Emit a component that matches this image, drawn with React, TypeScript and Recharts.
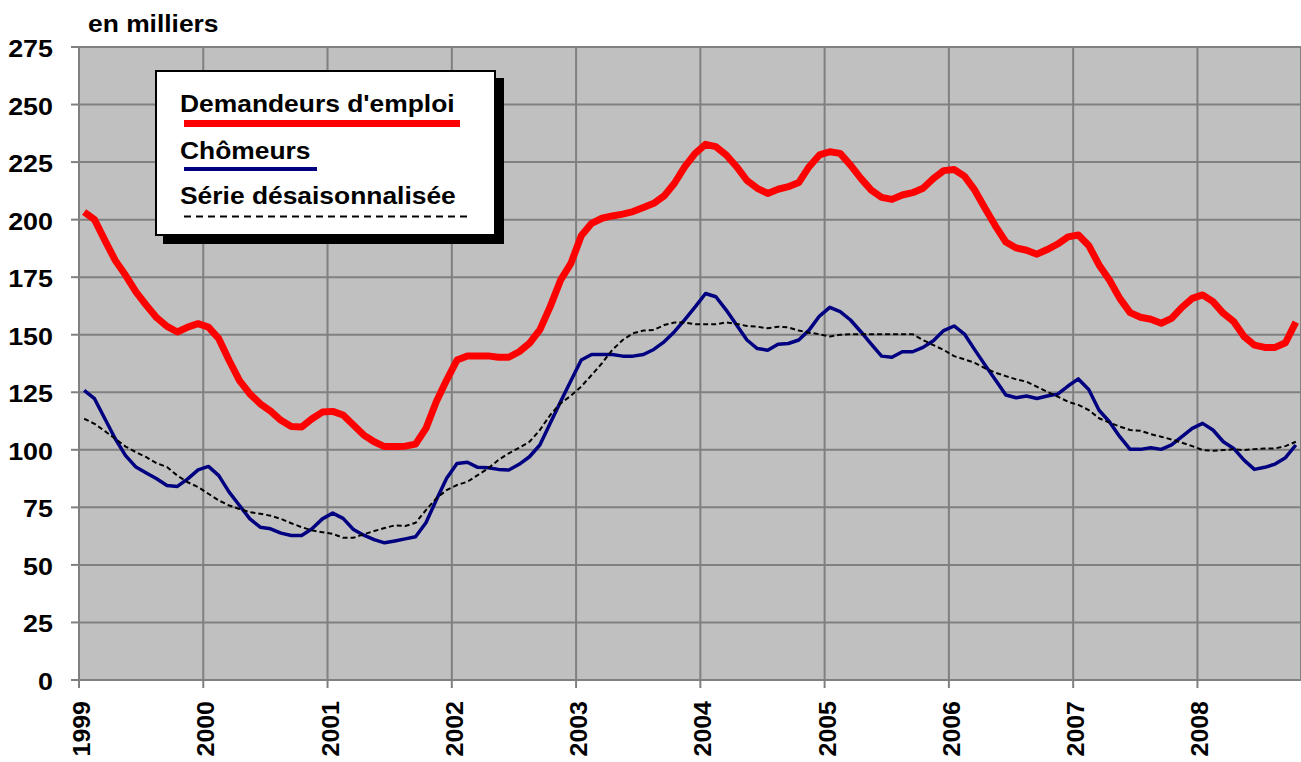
import React from "react";
import { LineChart, Line, XAxis, YAxis, CartesianGrid, Legend } from "recharts";

// monthly values, Jan 1999 - Oct 2008 (thousands)
const years = ["1999", "2000", "2001", "2002", "2003", "2004", "2005", "2006", "2007", "2008"];
const seriesNames = ["Demandeurs d'emploi", "Chômeurs", "Série désaisonnalisée"];

const demandeurs = [
  203.3, 200, 191, 182.3, 175.8, 168.6, 162.8, 157.4, 153.6, 151.2, 153.3, 154.8,
  153.3, 148.3, 138.8, 130.1, 124.3, 120, 116.8, 112.8, 110.1, 109.9, 113.5, 116.4,
  116.7, 115.1, 110.8, 106.4, 103.5, 101.4, 101.4, 101.6, 102.5, 109.3, 120.9, 130.3,
  139, 140.8, 140.8, 140.8, 140.2, 140.2, 142.6, 146.3, 152.1, 162.2, 173.7, 181,
  193, 198.4, 200.6, 201.6, 202.4, 203.5, 205.3, 207.1, 210.3, 215.8, 223, 228.8,
  232.7, 231.7, 228.1, 223, 217, 213.6, 211.4, 213.2, 214.3, 216.1, 223, 228.1,
  229.5, 228.8, 223.7, 217.9, 212.8, 209.7, 208.8, 210.7, 211.7, 213.6, 217.9, 221.3,
  221.8, 218.9, 212.8, 204.8, 197.2, 190.3, 187.7, 186.7, 185, 187, 189.4, 192.5,
  193.3, 188.8, 180.3, 173.8, 165.8, 159.6, 157.6, 156.7, 155, 157.1, 161.9, 165.8,
  167.3, 164.4, 159.3, 155.7, 149.2, 145.5, 144.5, 144.5, 146.5, 155.5,
];

const chomeurs = [
  125.8, 122.2, 113.5, 104.8, 97.5, 92.5, 89.9, 87.4, 84.5, 84.1, 87.4, 91.3,
  92.8, 88.8, 81.6, 75.8, 70, 66.4, 65.7, 63.8, 62.8, 62.8, 65.7, 70,
  72.5, 70.2, 65.4, 62.9, 61, 59.6, 60.4, 61.3, 62.2, 68.3, 78.2, 87.6,
  94.1, 94.6, 92.4, 92.2, 91.5, 91.2, 93.7, 97, 102.1, 111.5, 120.9, 130,
  139, 141.4, 141.4, 141.4, 140.7, 140.7, 141.4, 143.6, 146.9, 151.3, 156.6, 162.1,
  167.9, 166.5, 160.7, 154.2, 147.7, 144, 143.3, 145.9, 146.2, 147.7, 152, 158.1,
  161.9, 160, 156.4, 151.3, 145.9, 140.7, 140.2, 142.6, 142.6, 144.5, 147.4, 151.8,
  153.8, 150.3, 143.4, 136.8, 130.3, 123.8, 122.6, 123.4, 122.3, 123.4, 124.2, 127.7,
  130.8, 126.2, 117.2, 112.2, 105.7, 100.2, 100.2, 100.9, 100.2, 102.1, 105.7, 109.3,
  111.5, 108.6, 103.5, 100.6, 95.5, 91.5, 92.4, 93.8, 96.6, 102.1,
];

const desaisonnalisee = [
  113.5, 111.3, 108.1, 104.8, 101.4, 99, 96.8, 94.2, 92.5, 88.8, 85.9, 83.8,
  80.9, 78, 75.8, 74.3, 72.9, 72.2, 71.4, 70, 68.1, 66.4, 65, 64.2,
  63.5, 61.8, 61.8, 63.3, 64.7, 66, 67.2, 66.9, 68.3, 73.8, 78.9, 82.5,
  84.7, 86.1, 89, 91.9, 95.6, 98.5, 100.9, 103.5, 108.6, 115.1, 120.2, 123.5,
  127.5, 132.5, 137.6, 143.4, 147.7, 150.6, 151.8, 152.1, 154.2, 155.3, 155.3, 154.5,
  154.5, 154.5, 155.4, 154.7, 153.8, 153.5, 152.8, 153.5, 153.2, 151.8, 150.9, 150.2,
  149.2, 150, 150.2, 150.2, 150.2, 150.2, 150.2, 150.2, 150.2, 147.7, 145.5, 143.4,
  140.7, 139.3, 137.8, 135.4, 133.5, 132, 130.6, 129.6, 127.4, 125.2, 123.1, 120.9,
  119.5, 117.3, 113.7, 111.8, 110.1, 108.6, 108.3, 106.8, 105.7, 104.5, 103.1, 101.6,
  99.9, 99.6, 99.9, 100.2, 99.9, 100.3, 100.6, 100.6, 101.6, 103.5,
];

const yTicks = [0, 25, 50, 75, 100, 125, 150, 175, 200, 225, 250, 275];
const xTicks = years.map((_, i) => i * 12);

const rows = demandeurs.map((v, i) => ({
  x: i + 0.5,
  demandeurs: v,
  chomeurs: chomeurs[i],
  cvs: desaisonnalisee[i],
}));

const FONT = "'Liberation Sans', Arial, sans-serif";

function YTick({ x, y, payload }: any) {
  return (
    <g transform={`translate(${x - 16},${y + 10}) scale(1.12,1)`}>
      <text textAnchor="end" fontFamily={FONT} fontWeight="bold" fontSize={24} fill="#000">
        {payload.value}
      </text>
    </g>
  );
}

function XTick({ x, payload }: any) {
  return (
    <g transform={`translate(${x + 11},701) rotate(-90) scale(1.04,1)`}>
      <text textAnchor="end" fontFamily={FONT} fontWeight="bold" fontSize={24} fill="#000">
        {years[Math.round(payload.value / 12)]}
      </text>
    </g>
  );
}

function LegendBox({ payload }: any) {
  const items = [...(payload ?? [])].sort(
    (a: any, b: any) => seriesNames.indexOf(a.value) - seriesNames.indexOf(b.value)
  );
  const textY = [42, 89, 134];
  const lineY = [53.5, 99, 146.5];
  const lineW = [276, 133, 284];
  const lineS = [7, 4, 2];
  return (
    <div style={{ position: "relative", width: 349, height: 174 }}>
      <div style={{ position: "absolute", left: 8, top: 8, width: 341, height: 166, background: "#000" }} />
      <svg width={341} height={166} style={{ position: "absolute", left: 0, top: 0 }}>
        <rect x={1} y={1} width={339} height={164} fill="#fff" stroke="#000" strokeWidth={2} />
        {items.map((it: any, i: number) => (
          <g key={it.value}>
            <g transform={`translate(25,${textY[i]}) scale(1.1,1)`}>
              <text fontFamily={FONT} fontWeight="bold" fontSize={24} fill="#000">
                {it.value}
              </text>
            </g>
            <line
              x1={29}
              x2={29 + lineW[i]}
              y1={lineY[i]}
              y2={lineY[i]}
              stroke={it.color}
              strokeWidth={lineS[i]}
              strokeDasharray={i === 2 ? "7 5" : undefined}
            />
          </g>
        ))}
      </svg>
    </div>
  );
}

export default function App() {
  return (
    <div style={{ position: "absolute", left: 0, top: 0, width: 1301, height: 762, background: "#fff", overflow: "hidden" }}>
      <svg width={300} height={40} style={{ position: "absolute", left: 0, top: 0 }}>
        <g transform="translate(88,32) scale(1.1,1)">
          <text fontFamily={FONT} fontWeight="bold" fontSize={24} fill="#000">
            en milliers
          </text>
        </g>
      </svg>
      <LineChart width={1301} height={762} data={rows} margin={{ top: 47, right: 0, bottom: 0, left: 0 }}>
        <CartesianGrid stroke="#808080" strokeWidth={2} fill="#c0c0c0" fillOpacity={1} />
        <XAxis
          type="number"
          dataKey="x"
          domain={[0, 118]}
          ticks={xTicks}
          interval={0}
          height={82}
          stroke="#808080"
          axisLine={{ stroke: "#808080", strokeWidth: 2 }}
          tickLine={{ stroke: "#808080", strokeWidth: 2 }}
          tickSize={8}
          tick={<XTick />}
          allowDataOverflow
        />
        <YAxis
          domain={[0, 275]}
          ticks={yTicks}
          interval={0}
          width={79}
          axisLine={{ stroke: "#808080", strokeWidth: 2 }}
          tickLine={{ stroke: "#808080", strokeWidth: 2 }}
          tickSize={8}
          tick={<YTick />}
        />
        <Line
          type="linear"
          dataKey="demandeurs"
          name={seriesNames[0]}
          stroke="#ff0000"
          strokeWidth={7}
          strokeLinejoin="round"
          dot={false}
          isAnimationActive={false}
        />
        <Line
          type="linear"
          dataKey="chomeurs"
          name={seriesNames[1]}
          stroke="#000080"
          strokeWidth={3.5}
          strokeLinejoin="round"
          dot={false}
          isAnimationActive={false}
        />
        <Line
          type="linear"
          dataKey="cvs"
          name={seriesNames[2]}
          stroke="#000000"
          strokeWidth={2}
          strokeDasharray="5 3"
          dot={false}
          isAnimationActive={false}
        />
        <Legend
          layout="vertical"
          align="center"
          verticalAlign="middle"
          wrapperStyle={{ left: 155, top: 70, width: 349, height: 174 }}
          content={<LegendBox />}
        />
      </LineChart>
    </div>
  );
}
